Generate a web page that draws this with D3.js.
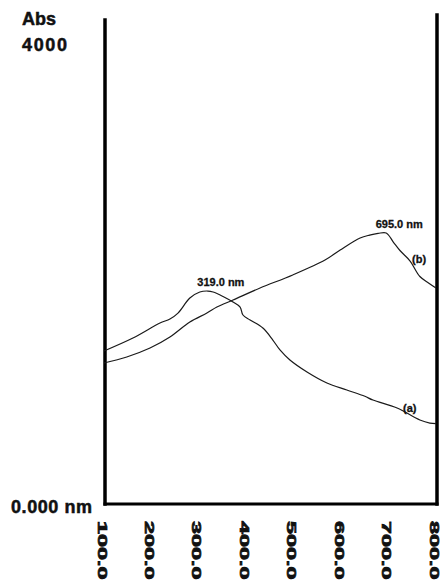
<!DOCTYPE html>
<html>
<head>
<meta charset="utf-8">
<script src="https://cdn.jsdelivr.net/npm/d3@7"></script>
<style>
  html, body { margin: 0; padding: 0; background: #fff; }
  svg { display: block; }
  text { font-family: "Liberation Sans", Arial, sans-serif; font-weight: bold; fill: #111; stroke: #111; stroke-width: 0.5px; }
</style>
</head>
<body>
<svg id="chart" width="440" height="581"></svg>
<script>
// Wavelength ticks (nm) along the bottom edge
const xTicks = [100, 200, 300, 400, 500, 600, 700, 800];

// Spectrum (a): wavelength (nm) and absorbance
const waveA = [100, 161, 218, 239, 256, 281, 302, 319, 330, 351, 372, 387, 393, 408, 435, 456, 471, 492, 528, 570, 612, 650, 667, 718, 766, 787, 800];
const absA  = [1265, 1372, 1496, 1529, 1578, 1702, 1752, 1760, 1752, 1715, 1669, 1628, 1562, 1521, 1454, 1355, 1273, 1190, 1091, 1000, 942, 890, 859, 793, 694, 669, 665];

// Spectrum (b): wavelength (nm) and absorbance
const waveB = [100, 148, 197, 239, 281, 317, 338, 372, 429, 498, 566, 598, 640, 660, 678, 695, 710, 724, 745, 766, 785, 800];
const absB  = [1165, 1215, 1289, 1380, 1504, 1578, 1628, 1686, 1785, 1893, 2016, 2099, 2198, 2222, 2236, 2240, 2165, 2095, 2010, 1880, 1825, 1785];

// Peak annotations
const peaks = [
  { label: "319.0 nm", wave: 319, abs: 1760 },
  { label: "695.0 nm", wave: 695, abs: 2240 }
];

const svg = d3.select("#chart");
const x = d3.scaleLinear().domain([100, 800]).range([104, 436]);
const y = d3.scaleLinear().domain([0, 4000]).range([504, 20]);

// Frame: left axis, bottom axis, right edge
const frame = svg.append("g").attr("stroke", "#000").attr("stroke-linecap", "square");
frame.append("line").attr("x1", 105).attr("x2", 105).attr("y1", y(4000)).attr("y2", 504).attr("stroke-width", 3.5);
frame.append("line").attr("x1", 105).attr("x2", 437).attr("y1", 504).attr("y2", 504).attr("stroke-width", 3);
frame.append("line").attr("x1", 437).attr("x2", 437).attr("y1", y(4000) - 5).attr("y2", 504).attr("stroke-width", 3.5);

// Spectra
const line = d3.line()
  .x(d => x(d[0]))
  .y(d => y(d[1]))
  .curve(d3.curveCatmullRom.alpha(0.5));

const dataA = waveA.map((w, i) => [w, absA[i]]);
const dataB = waveB.map((w, i) => [w, absB[i]]);

svg.append("path").datum(dataA).attr("d", line)
  .attr("fill", "none").attr("stroke", "#1a1a1a").attr("stroke-width", 1.2);
svg.append("path").datum(dataB).attr("d", line)
  .attr("fill", "none").attr("stroke", "#1a1a1a").attr("stroke-width", 1.2);

// Peak labels
svg.selectAll("text.peak").data(peaks).enter().append("text")
  .attr("class", "peak")
  .attr("x", d => x(d.wave) + 13)
  .attr("y", d => y(d.abs) - 5)
  .attr("text-anchor", "middle")
  .style("font-size", "11px")
  .style("stroke-width", "0.3px")
  .text(d => d.label);

// Series tags
svg.append("text").attr("x", 403).attr("y", 412).style("font-size", "11px").style("stroke-width", "0.3px").text("(a)");
svg.append("text").attr("x", 412).attr("y", 263).style("font-size", "11px").style("stroke-width", "0.3px").text("(b)");

// Y-axis labels
svg.append("text").attr("x", 22).attr("y", 25).style("font-size", "18px").text("Abs");
svg.append("text").attr("x", 22).attr("y", 51).style("font-size", "18px").attr("textLength", 45).text("4000");
svg.append("text").attr("x", 11).attr("y", 513).style("font-size", "18px").attr("textLength", 81).text("0.000 nm");

// X tick labels, rotated to run downward
svg.selectAll("text.xtick").data(xTicks).enter().append("text")
  .attr("class", "xtick")
  .attr("transform", d => `translate(${x(d) - 2},521) rotate(90) scale(1.8,1)`)
  .attr("dominant-baseline", "central")
  .style("font-size", "13px")
  .style("stroke-width", "0.7px")
  .text(d => d.toFixed(1));
</script>
</body>
</html>
